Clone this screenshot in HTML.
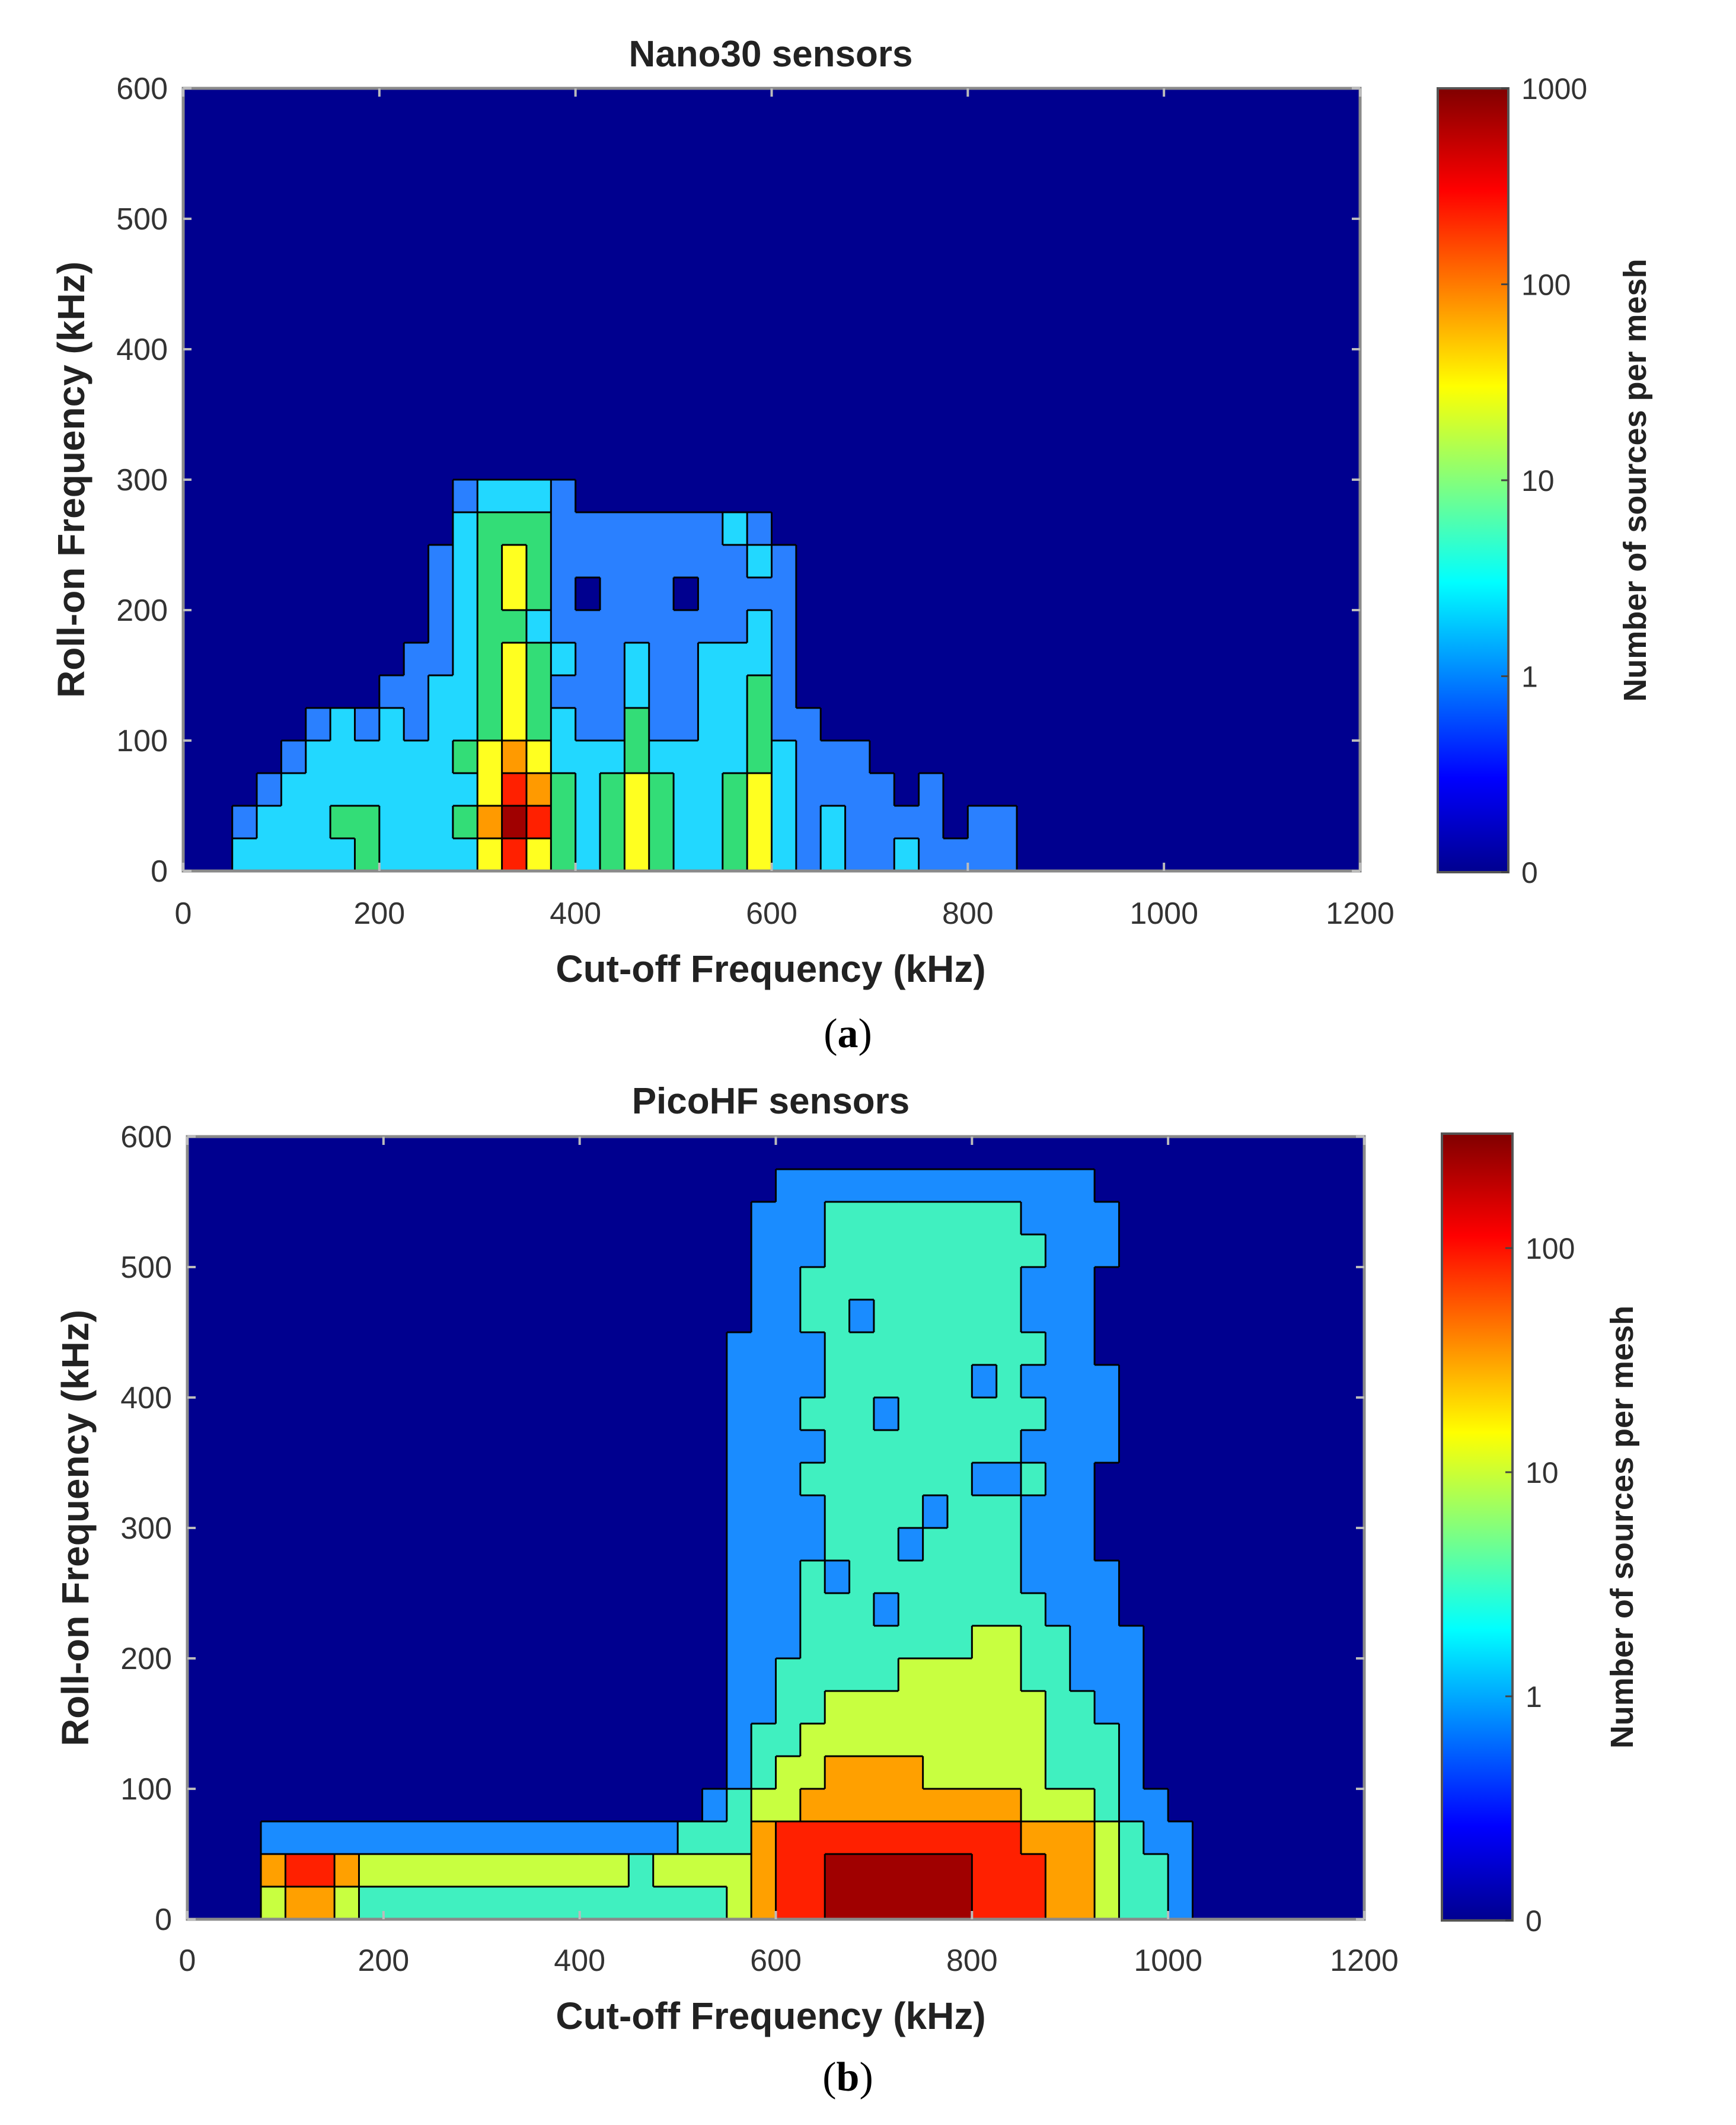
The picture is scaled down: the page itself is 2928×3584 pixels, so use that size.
<!DOCTYPE html>
<html><head><meta charset="utf-8"><style>
html,body{margin:0;padding:0;background:#fff;}
svg{display:block;font-family:"Liberation Sans",Arial,sans-serif;}
</style></head><body>
<svg id="fig" width="2928" height="3584" viewBox="0 0 2928 3584" xmlns="http://www.w3.org/2000/svg">
<defs>
<linearGradient id="jetA" x1="0" y1="1" x2="0" y2="0">
<stop offset="0" stop-color="#00008f"/><stop offset="0.12" stop-color="#0000ff"/><stop offset="0.37" stop-color="#00ffff"/><stop offset="0.62" stop-color="#ffff00"/><stop offset="0.87" stop-color="#ff0000"/><stop offset="1" stop-color="#800000"/>
</linearGradient>
</defs>
<g id="panelA"></g>
<g id="panelB"></g>
</svg>
<script>
// ----- data: panel a (Nano30), level per 25x25 kHz cell, rows from roll-on 0 upward -----
const xTicks = [0, 200, 400, 600, 800, 1000, 1200];
const yTicks = [0, 100, 200, 300, 400, 500, 600];
const nanoRows = [
"00 2222232222 464 3 2 343 22 34 2 1 2 11 2 1111",
"00 1222332223 576 3 2 343 22 34 2 1 2 11 1 1011",
"00 0122222222 465 3 2 343 22 34 2 1 1 11 0 1000",
"00 0012222223 454 2 2 232 22 23 2 1 1 10 0 0000",
"00 0001212122 343 2 1 131 12 23 1 1 0 00",
"00 0000001122 343 1 1 121 12 23 1 0",
"00 0000000112 343 2 1 121 12 22 1",
"00 0000000012 332 1 1 111 11 12 1",
"00 0000000012 343 1 0 111 01 11 1",
"00 0000000012 343 1 1 111 11 12 1",
"00 0000000002 333 1 1 111 11 21",
"00 0000000001 222 1"
];
const nanoColors = ["#00008f","#2a80ff","#22d8ff","#33dd77","#ffff20","#ff9a00","#ff2000","#a00000"];
const nanoCbTicks = ["0","1","10","100","1000"];
// ----- data: panel b (PicoHF) -----
const Z22 = "0000000000000000000000";
const picoRows = [
"000 3443 222222222222222 3 4556666665554 432 2 1",
"000 4554 333333333332333 3 4556666665554 432 2 1",
"000 1111 111111111111122 2 4555555555544 432 1 1",
"000 0000 000000000000001 2 3344444444433 321 1 0",
Z22+"1 2334444333332 221",
Z22+"1 2233333333332 221",
Z22+"1 1223333333332 211",
Z22+"1 1222223333322 111",
Z22+"1 1122222223322 111",
Z22+"1 1122212222221 110",
Z22+"1 1121222222211 110",
Z22+"1 1112221222211 100",
Z22+"1 1112222122211 100",
Z22+"1 1122222221121 100",
Z22+"1 1112222222211 110",
Z22+"1 1122212222221 110",
Z22+"1 1112222221211 110",
Z22+"1 1112222222221 100",
Z22+"0 1122122222211 100",
Z22+"0 1122222222211 100",
Z22+"0 1112222222221 110",
Z22+"0 1112222222211 110",
Z22+"0 0111111111111 100",
Z22+"0 0000000000000"
];
const picoColors = ["#00008f","#1a8cff","#40f0c0","#c8ff40","#ffa000","#ff2000","#a00000"];
const picoCbTicks = ["0","1","10","100"];

const NS="http://www.w3.org/2000/svg";
function mk(parent,tag,attrs,text){const e=document.createElementNS(NS,tag);for(const k in attrs)e.setAttribute(k,attrs[k]);if(text!==undefined)e.textContent=text;parent.appendChild(e);return e;}

function panel(g,cfg){
  const L=cfg.L,R=cfg.R,T=cfg.T,B=cfg.B;
  const xs=v=>L+(v/1200)*(R-L), ys=v=>B-(v/600)*(B-T);
  const grid=cfg.rows.map(rs=>rs.replace(/ /g,''));
  const lvl=(r,c)=>{if(r<0||r>=grid.length)return 0;const s=grid[r];return c<0||c>=s.length?0:+s[c];};
  const bg=mk(g,'rect',{x:L,y:T,width:R-L,height:B-T,fill:cfg.colors[0]});
  
  
  grid.forEach((s,r)=>{
    for(let c=0;c<s.length;c++){
      const lv=+s[c]; if(!lv) continue;
      const rc=mk(g,'rect',{x:xs(c*25),y:ys((r+1)*25),width:xs(25)-xs(0)+0.5,height:ys(0)-ys(25)+0.5,fill:cfg.colors[lv]});
      
      
    }
  });
  // contour boundaries
  let d='';
  for(let r=0;r<24;r++)for(let c=0;c<48;c++){
    const v=lvl(r,c);
    if(c<47&&v!==lvl(r,c+1)){const x=xs((c+1)*25);d+=`M${x},${ys(r*25)}V${ys((r+1)*25)}`;}
    if(r<23&&v!==lvl(r+1,c)){const y=ys((r+1)*25);d+=`M${xs(c*25)},${y}H${xs((c+1)*25)}`;}
  }
  const cp=mk(g,'path',{d:d,stroke:'#000','stroke-width':3,fill:'none'});
  
  
  mk(g,'rect',{x:L,y:T,width:R-L,height:B-T,fill:'none',stroke:'#8a8a8a','stroke-width':5});
  xTicks.forEach(v=>{
    const x=xs(v);
    mk(g,'line',{x1:x,y1:T,x2:x,y2:T+14,stroke:'#bbb','stroke-width':4});
    mk(g,'line',{x1:x,y1:B,x2:x,y2:B-14,stroke:'#bbb','stroke-width':4});
    const t=mk(g,'text',{x:x,y:cfg.xTickY,'text-anchor':'middle','font-size':52,fill:'#333'},String(v));
    
    
  });
  yTicks.forEach(v=>{
    const y=ys(v);
    mk(g,'line',{x1:L,y1:y,x2:L+14,y2:y,stroke:'#bbb','stroke-width':4});
    mk(g,'line',{x1:R,y1:y,x2:R-14,y2:y,stroke:'#bbb','stroke-width':4});
    const t=mk(g,'text',{x:L-26,y:y+18,'text-anchor':'end','font-size':52,fill:'#333'},String(v));
    
    
  });
  const ti=mk(g,'text',{x:1300,y:cfg.titleY,'text-anchor':'middle','font-size':62,'font-weight':'bold',fill:'#222'},cfg.title);
  
  
  const xl=mk(g,'text',{x:1300,y:cfg.xLabY,'text-anchor':'middle','font-size':64,'font-weight':'bold',fill:'#222'},'Cut-off Frequency (kHz)');
  
  
  const yl=mk(g,'text',{x:0,y:0,'text-anchor':'middle','font-size':64,'font-weight':'bold',fill:'#222',transform:`translate(${cfg.yLabX},${(T+B)/2}) rotate(-90)`},'Roll-on Frequency (kHz)');
  
  
  const cb=mk(g,'rect',{x:cfg.cbL,y:cfg.cbT,width:cfg.cbW,height:cfg.cbB-cfg.cbT,fill:'url(#jetA)',stroke:'#555','stroke-width':4});
  
  
  cfg.cbTicks.forEach((lab,i)=>{
    const y=cfg.cbB-i*cfg.cbStep;
    mk(g,'line',{x1:cfg.cbL+cfg.cbW-12,y1:y,x2:cfg.cbL+cfg.cbW,y2:y,stroke:'#444','stroke-width':3});
    const t=mk(g,'text',{x:cfg.cbL+cfg.cbW+22,y:y+18,'font-size':50,fill:'#333'},lab);
    
    
  });
  const cl=mk(g,'text',{x:0,y:0,'text-anchor':'middle','font-size':54,'font-weight':'bold',fill:'#222',transform:`translate(${cfg.cbLabX},${(cfg.cbT+cfg.cbB)/2}) rotate(-90)`},'Number of sources per mesh');
  
  
  const pl=mk(g,'text',{x:1430,y:cfg.subY,'text-anchor':'middle','font-size':70,'font-family':'Liberation Serif, serif',fill:'#000'},'');
  
  
  mk(pl,'tspan',{},'(');
  mk(pl,'tspan',{'font-weight':'bold'},cfg.sub);
  mk(pl,'tspan',{},')');
}
panel(document.getElementById('panelA'),{L:309,R:2294,T:149,B:1469,rows:nanoRows,colors:nanoColors,
  title:'Nano30 sensors',titleY:112,xTickY:1558,xLabY:1656,yLabX:142,
  cbL:2425,cbW:119,cbT:149,cbB:1471,cbTicks:nanoCbTicks,cbStep:330.5,cbLabX:2776,sub:'a',subY:1766});
panel(document.getElementById('panelB'),{L:316,R:2301,T:1917,B:3237,rows:picoRows,colors:picoColors,
  title:'PicoHF sensors',titleY:1878,xTickY:3324,xLabY:3422,yLabX:149,
  cbL:2432,cbW:119,cbT:1912,cbB:3239,cbTicks:picoCbTicks,cbStep:378,cbLabX:2754,sub:'b',subY:3526});
</script>
</body></html>
